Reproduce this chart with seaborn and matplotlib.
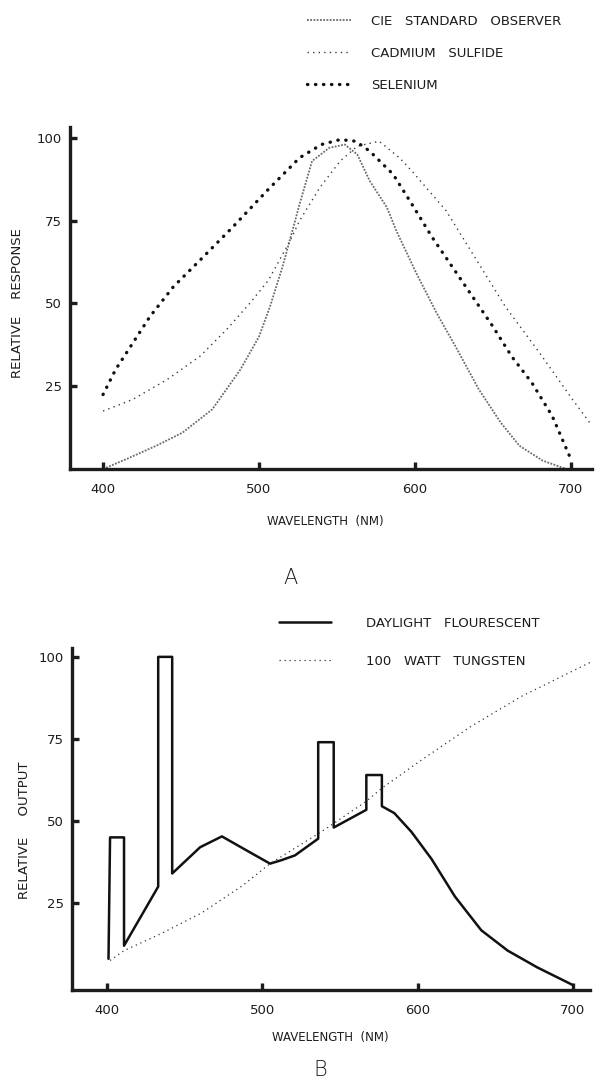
import matplotlib
matplotlib.use("Agg")
import pandas as pd
import matplotlib.pyplot as plt
import seaborn as sns

# --- Panel A: relative response ---
cie_wl = [400, 415, 434, 451, 470, 488, 500, 507, 515, 522, 526, 534, 545, 555,
          563, 571, 582, 588, 601, 614, 626, 641, 655, 667, 682, 697]
cie_val = [0, 3, 7, 11, 18, 30, 40, 49, 61, 73, 80, 93, 97, 98,
           95, 87, 79, 72, 59, 47, 37, 24, 14, 7, 2.5, 0]

cds_wl = [400, 419, 441, 462, 479, 494, 506, 513, 520, 526, 539, 552, 563, 577,
          590, 598, 620, 637, 658, 680, 701, 712]
cds_val = [17.5, 21, 27, 34, 42, 50, 57, 63, 69, 75, 85, 93, 97.5, 99,
           94, 90, 78, 65, 49, 35, 21, 14]

se_wl = [400, 408, 419, 430, 445, 462, 483, 505, 526, 540, 552, 562, 571, 586,
         598, 611, 624, 637, 650, 662, 675, 688, 699]
se_val = [22.5, 30, 38, 46, 55, 63, 73, 84, 94, 98, 99.5, 99, 96, 89,
          80, 70, 61, 52, 43, 34, 26, 16, 4]

# --- Panel B: relative output of light sources ---
day_wl = [401, 402, 411, 411, 433, 433, 442, 442, 460, 474, 490, 505, 512, 521,
          536, 536, 546, 546, 567, 567, 577, 577, 585, 596, 609, 624, 641, 658,
          677, 700]
day_val = [8, 45, 45, 12, 30, 100, 100, 34, 42, 45.3, 41, 37, 38, 39.5,
           44.6, 74, 74, 48, 53.4, 64, 64, 54.5, 52.4, 46.7, 38.4, 27, 16.7, 10.5,
           5.4, 0]

tung_wl = [402, 411, 435, 461, 487, 505, 538, 567, 577, 602, 634, 667, 711]
tung_val = [7.5, 10.5, 15.7, 22, 30.2, 37, 46.7, 56, 60, 68.4, 78.7, 88, 98.3]

x_ticks = [400, 500, 600, 700]
y_ticks = [25, 50, 75, 100]

sns.set_style("ticks")
plt.rcParams['font.family'] = ['DejaVu Sans']

INK = '#1c1c1c'
W, H = 595, 1087


def fx(px):
    return px / W


def fy(py):
    return 1 - py / H


def style_axes(ax, xlim, ylim):
    ax.set_xlim(*xlim)
    ax.set_ylim(*ylim)
    ax.set_xticks(x_ticks)
    ax.set_yticks(y_ticks)
    ax.set_xticklabels([str(t) for t in x_ticks])
    ax.set_yticklabels([str(t) for t in y_ticks])
    sns.despine(ax=ax)
    for side in ['left', 'bottom']:
        ax.spines[side].set_linewidth(2.4)
        ax.spines[side].set_color(INK)
    ax.tick_params(axis='both', direction='in', length=5, width=2.4, color=INK,
                   labelsize=9.5, labelcolor=INK)
    ax.tick_params(axis='x', pad=10)
    ax.tick_params(axis='y', pad=6)
    ax.set_xlabel('')
    ax.set_ylabel('')


def curve(ax, wl, val, label, **kw):
    df = pd.DataFrame({'wl': wl, 'val': val})
    sns.lineplot(data=df, x='wl', y='val', ax=ax, sort=False, estimator=None,
                 label=label, **kw)


fig = plt.figure(figsize=(W / 100, H / 100), dpi=100)

# Panel A
ax_a = fig.add_axes([fx(70), fy(469), (592 - 70) / W, (469 - 127) / H])
curve(ax_a, cie_wl, cie_val, 'CIE   STANDARD   OBSERVER',
      color='#6a6a6a', linewidth=1.3, linestyle=(0, (1, 0.8)))
curve(ax_a, cds_wl, cds_val, 'CADMIUM   SULFIDE',
      color='#3a3a3a', linewidth=1.0, linestyle=(0, (1, 3)))
curve(ax_a, se_wl, se_val, 'SELENIUM',
      color='#111111', linewidth=2.4, linestyle=(0, (0.1, 2.3)),
      dash_capstyle='round')
style_axes(ax_a, (378.8, 713.5), (0, 103.3))
ax_a.legend(loc='upper left', bbox_to_anchor=(fx(300), fy(8)),
            bbox_transform=fig.transFigure, frameon=False, fontsize=9.5,
            handlelength=3.4, handletextpad=1.5, labelspacing=1.45,
            borderpad=0, labelcolor=INK)

fig.text(fx(18), fy(303), 'RELATIVE    RESPONSE', rotation=90, ha='center',
         va='center', fontsize=9.5, color=INK)
fig.text(fx(325), fy(522), 'WAVELENGTH  (NM)', ha='center', va='center',
         fontsize=8.5, color=INK)
fig.text(fx(290), fy(578), 'A', ha='center', va='center', fontsize=15,
         color=INK, fontweight='light')

# Panel B
ax_b = fig.add_axes([fx(72), fy(990), (590 - 72) / W, (990 - 648) / H])
curve(ax_b, day_wl, day_val, 'DAYLIGHT   FLOURESCENT',
      color='#111111', linewidth=1.8, linestyle='-')
curve(ax_b, tung_wl, tung_val, '100   WATT   TUNGSTEN',
      color='#333333', linewidth=0.9, linestyle=(0, (1, 3)))
style_axes(ax_b, (377.5, 711), (-1.5, 102.7))
ax_b.legend(loc='upper left', bbox_to_anchor=(fx(272), fy(610)),
            bbox_transform=fig.transFigure, frameon=False, fontsize=9.5,
            handlelength=4.0, handletextpad=2.6, labelspacing=1.9,
            borderpad=0, labelcolor=INK)

fig.text(fx(25), fy(830), 'RELATIVE     OUTPUT', rotation=90, ha='center',
         va='center', fontsize=9.5, color=INK)
fig.text(fx(330), fy(1038), 'WAVELENGTH  (NM)', ha='center', va='center',
         fontsize=8.5, color=INK)
fig.text(fx(320), fy(1070), 'B', ha='center', va='center', fontsize=15,
         color=INK, fontweight='light')

fig.savefig('out.png', dpi=100, facecolor='white')
